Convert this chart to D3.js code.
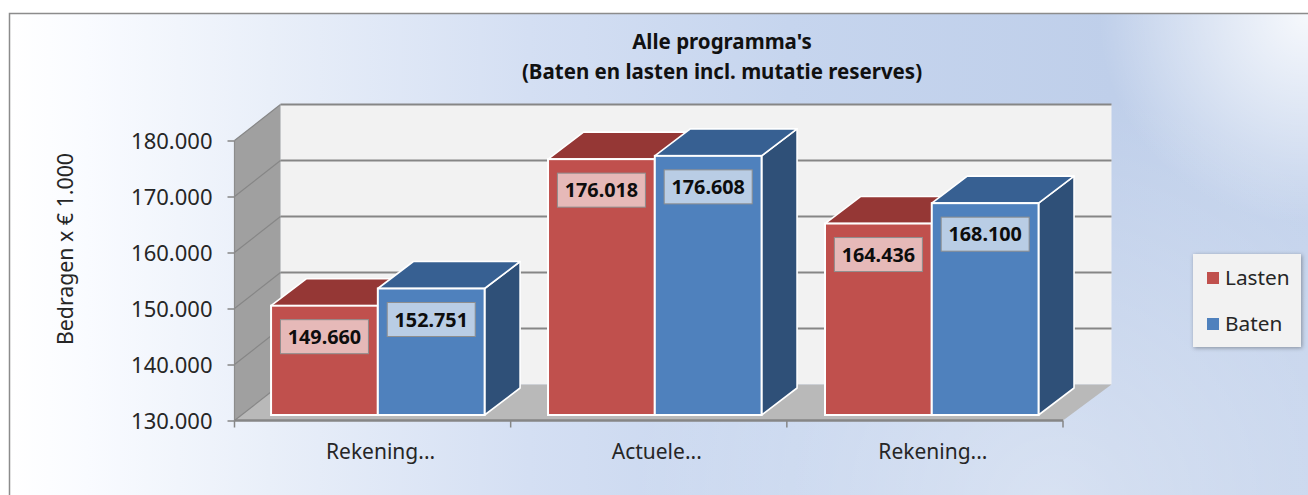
<!DOCTYPE html>
<html><head><meta charset="utf-8">
<script src="https://cdn.jsdelivr.net/npm/d3@7"></script>
<style>html,body{margin:0;padding:0;background:#fff;overflow:hidden}svg{display:block}text{font-family:"Noto Sans",sans-serif}</style>
</head><body><svg id="c" width="1308" height="495"></svg>
<script>
const categories=["Rekening...","Actuele...","Rekening..."];
const seriesNames=["Lasten","Baten"];
const lasten=[149660,176018,164436];
const baten=[152751,176608,168100];
const yTicks=[130000,140000,150000,160000,170000,180000];
const titleLines=["Alle programma's","(Baten en lasten incl. mutatie reserves)"];
const yTitle="Bedragen x € 1.000";
const fmt=v=>d3.format(",")(v).replace(/,/g,".");
const svg=d3.select("#c"),defs=svg.append("defs");

// background
const g1=defs.append("linearGradient").attr("id","bg").attr("x1",0).attr("x2",1).attr("y1",0).attr("y2",0);
[[0,"#ffffff"],[0.06,"#f9fbff"],[0.2,"#e9eff9"],[0.4,"#d4dff3"],[0.6,"#c6d5ee"],[0.85,"#bfcfea"],[1,"#c4d3ec"]].forEach(d=>g1.append("stop").attr("offset",d[0]).attr("stop-color",d[1]));
const rg=(id,cx,cy,r,op)=>{const g=defs.append("radialGradient").attr("id",id).attr("gradientUnits","userSpaceOnUse").attr("cx",cx).attr("cy",cy).attr("r",r);
  g.append("stop").attr("offset",0).attr("stop-color","#fff").attr("stop-opacity",op);
  g.append("stop").attr("offset",1).attr("stop-color","#fff").attr("stop-opacity",0);};
rg("tr",1308,14,210,0.85);
rg("br",1050,510,420,0.38);
const sh=defs.append("filter").attr("id","sh").attr("x","-20%").attr("y","-20%").attr("width","140%").attr("height","140%");
sh.append("feDropShadow").attr("dx",1).attr("dy",1).attr("stdDeviation",2).attr("flood-color","#000").attr("flood-opacity",0.35);

svg.append("rect").attr("x",10).attr("y",14).attr("width",1298).attr("height",481).attr("fill","url(#bg)");
svg.append("rect").attr("x",10).attr("y",14).attr("width",1298).attr("height",481).attr("fill","url(#br)");
svg.append("rect").attr("x",10).attr("y",14).attr("width",1298).attr("height",481).attr("fill","url(#tr)");
svg.append("path").attr("d","M9.5,495V13.5H1308").attr("fill","none").attr("stroke","#8c8c8c").attr("stroke-width",1.5);

// scales
const M={l:234.5,r:1063,dx:46,dy:-36};
const x0=d3.scaleBand().domain(d3.range(categories.length)).range([M.l,1075.1]).paddingInner(0.229).paddingOuter(0.132);
const x1=d3.scaleBand().domain(seriesNames).range([0,x0.bandwidth()]);
const y=d3.scaleLinear().domain([130000,180000]).range([420.5,140.5]);
const yb=d3.scaleLinear().domain([130000,180000]).range([415,137]); // bar front plane
const bd={dx:35.5,dy:-27};

// walls
const pts=a=>a.map(p=>p.join(",")).join(" ");
const y0=y(130000),yT=y(180000);
svg.append("polygon").attr("points",pts([[M.l+M.dx,yT+M.dy],[M.r+M.dx+2.5,yT+M.dy],[M.r+M.dx+2.5,y0+M.dy],[M.l+M.dx,y0+M.dy]])).attr("fill","#f2f2f2");
svg.append("line").attr("x1",M.l+M.dx).attr("x2",M.r+M.dx+2.5).attr("y1",yT+M.dy).attr("y2",yT+M.dy).attr("stroke","#868686").attr("stroke-width",2);
svg.append("polygon").attr("points",pts([[M.l,yT],[M.l+M.dx,yT+M.dy],[M.l+M.dx,y0+M.dy],[M.l,y0]])).attr("fill","#a0a0a0");
svg.append("polygon").attr("points",pts([[M.l,y0],[M.l+M.dx,y0+M.dy],[M.r+M.dx+2.5,y0+M.dy],[M.r,y0]])).attr("fill","#b9b9b9");
yTicks.forEach(t=>{
  const yy=y(t);
  if(t>130000&&t<180000) svg.append("line").attr("x1",M.l+M.dx).attr("x2",M.r+M.dx+2.5).attr("y1",yy+M.dy).attr("y2",yy+M.dy).attr("stroke","#868686").attr("stroke-width",2);
  if(t<180000) svg.append("line").attr("x1",M.l).attr("y1",yy).attr("x2",M.l+M.dx).attr("y2",yy+M.dy).attr("stroke","#868686").attr("stroke-width",1.2);
});
svg.append("line").attr("x1",M.l).attr("y1",yT).attr("x2",M.l+M.dx).attr("y2",yT+M.dy).attr("stroke","#868686").attr("stroke-width",1.2);
svg.append("line").attr("x1",M.l).attr("y1",yT).attr("x2",M.l).attr("y2",y0).attr("stroke","#8c8c8c").attr("stroke-width",1.2);

// axes
const axisY=d3.axisLeft(y).tickValues(yTicks).tickFormat(fmt).tickSize(7).tickPadding(15);
const ay=svg.append("g").attr("transform",`translate(${M.l},0)`).call(axisY);
ay.select(".domain").remove();
ay.selectAll("line").attr("stroke","#868686").attr("stroke-width",1.5);
ay.selectAll("text").attr("font-size",22).attr("fill","#262626").attr("dy","0.36em").style("font-family",'"Noto Sans"');
const tickXs=d3.range(categories.length+1).map(i=>M.l+(M.r-M.l)*i/categories.length);
svg.append("line").attr("x1",M.l).attr("x2",M.r).attr("y1",y0).attr("y2",y0).attr("stroke","#868686").attr("stroke-width",2.5);
svg.selectAll(".xt").data(tickXs).join("line").attr("class","xt").attr("x1",d=>d).attr("x2",d=>d).attr("y1",y0).attr("y2",y0+7).attr("stroke","#868686").attr("stroke-width",1.5);
svg.selectAll(".xl").data(categories).join("text").attr("class","xl").attr("x",(d,i)=>(tickXs[i]+tickXs[i+1])/2+8).attr("y",459).attr("text-anchor","middle").attr("font-size",21).attr("fill","#262626").text(d=>d);

// bars
const seriesVals={Lasten:lasten,Baten:baten};
const cols={Lasten:{f:"#c0504d",t:"#953735",s:"#7f3331",lab:"#e6b9b8"},Baten:{f:"#4f81bd",t:"#376092",s:"#2f5078",lab:"#b9cde5"}};
const rows=[];
categories.forEach((c,i)=>seriesNames.forEach(s=>rows.push({i,s,v:seriesVals[s][i]})));
const bars=svg.selectAll(".bar").data(rows).join("g").attr("class","bar");
const geo=d=>{const a=x0(d.i)+x1(d.s),b=a+x1.bandwidth(),t=yb(d.v),z=yb(130000);return{a,b,t,z}};
bars.append("polygon").attr("points",d=>{const g=geo(d);return pts([[g.b,g.z],[g.b+bd.dx,g.z+bd.dy],[g.b+bd.dx,g.t+bd.dy],[g.b,g.t]])}).attr("fill",d=>cols[d.s].s).attr("stroke","#fff").attr("stroke-width",1.6).attr("stroke-linejoin","round");
bars.append("polygon").attr("points",d=>{const g=geo(d);return pts([[g.a,g.t],[g.a+bd.dx,g.t+bd.dy],[g.b+bd.dx,g.t+bd.dy],[g.b,g.t]])}).attr("fill",d=>cols[d.s].t).attr("stroke","#fff").attr("stroke-width",1.6).attr("stroke-linejoin","round");
bars.append("rect").attr("x",d=>geo(d).a).attr("y",d=>geo(d).t).attr("width",x1.bandwidth()).attr("height",d=>geo(d).z-geo(d).t).attr("fill",d=>cols[d.s].f).attr("stroke","#fff").attr("stroke-width",2);

// data labels
const labs=svg.selectAll(".lab").data(rows).join("g").attr("class","lab").attr("transform",d=>{const g=geo(d);return `translate(${(g.a+g.b)/2},${g.t+31})`});
labs.append("rect").attr("x",-44).attr("y",-17).attr("width",88).attr("height",34).attr("fill",d=>cols[d.s].lab).attr("stroke","#8e8e8e").attr("stroke-width",1);
labs.append("text").attr("text-anchor","middle").attr("y",7).attr("font-size",19.8).attr("font-weight",700).attr("fill","#0d0d0d").text(d=>fmt(d.v));

// titles
svg.selectAll(".tt").data(titleLines).join("text").attr("class","tt").attr("x",722).attr("y",(d,i)=>49+i*30).attr("text-anchor","middle").attr("font-size",20.5).attr("font-weight",700).attr("fill","#111").text(d=>d);
svg.append("text").attr("transform","translate(73,249) rotate(-90)").attr("text-anchor","middle").attr("font-size",21.3).attr("fill","#262626").text(yTitle);

// legend
const lg=svg.append("g").attr("transform","translate(1193,254)");
lg.append("rect").attr("width",108).attr("height",93).attr("fill","#f2f2f2").attr("filter","url(#sh)");
seriesNames.forEach((s,i)=>{
  lg.append("rect").attr("x",14).attr("y",18+i*46).attr("width",12).attr("height",12).attr("fill",cols[s].f);
  lg.append("text").attr("x",32).attr("y",31+i*46).attr("font-size",20.8).attr("fill","#262626").text(s);
});
</script></body></html>
